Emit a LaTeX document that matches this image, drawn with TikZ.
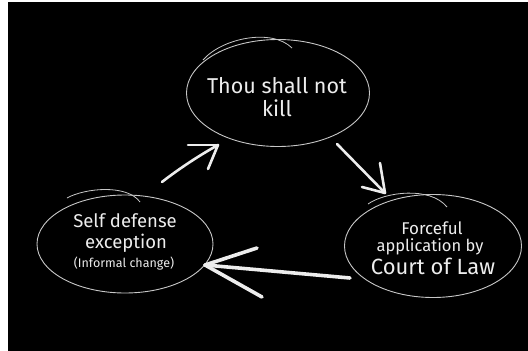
\documentclass[tikz,border=0pt]{standalone}
\usepackage{fontspec}
\setmainfont{Fira Sans}
\usetikzlibrary{shapes.geometric}
\definecolor{chalk}{gray}{0.93}
\definecolor{rim}{gray}{0.78}
\begin{document}
\begin{tikzpicture}[x=1pt,y=-1pt,
  bubble/.style={ellipse, draw=rim, line width=0.9pt, inner sep=0pt},
  txt/.style={text=chalk, inner sep=0pt, anchor=center},
  sketch/.style={draw=rim, line width=0.8pt},
  arr/.style={draw=chalk, line width=2.6pt, line cap=round, line join=round},
  bigarr/.style={draw=chalk, line width=3.6pt, line cap=round, line join=round}]
\useasboundingbox (0,0) rectangle (528,351);
\fill[white] (0,0) rectangle (528,351);
\fill[black] (8,2) rectangle (528,351);

% bubbles
\node[bubble, minimum width=183pt, minimum height=107pt] (top) at (278,93) {};
\node[bubble, minimum width=176pt, minimum height=98pt] (left) at (125,244) {};
\node[bubble, minimum width=177pt, minimum height=103pt] (right) at (433,246) {};

% overshoot strokes
\draw[sketch] (203,60) .. controls (222,38) and (272,28) .. (292,48);
\draw[sketch] (67,198) .. controls (85,188) and (127,184) .. (140,202);
\draw[sketch] (368,204) .. controls (385,192) and (430,186) .. (447,207);

% texts
\node[txt, font=\fontsize{21.5}{24}\selectfont] (t1a) at (277,86) {Thou shall not};
\node[txt, font=\fontsize{21.5}{24}\selectfont] (t1b) at (277,108) {kill};
\node[txt, font=\fontsize{18.5}{22}\selectfont] (t2a) at (125,221) {Self defense};
\node[txt, font=\fontsize{18.5}{22}\selectfont] (t2b) at (126,243) {exception};
\node[txt, font=\fontsize{12.5}{15}\selectfont] (t2c) at (124,264) {(Informal change)};
\node[txt, font=\fontsize{17}{20}\selectfont] (t3a) at (432,228) {Forceful};
\node[txt, font=\fontsize{16.5}{20}\selectfont] (t3b) at (430,247) {application by};
\node[txt, font=\fontsize{22}{24}\selectfont] (t3c) at (433,266) {Court of Law};

% arrows
\coordinate (a1s) at (162,182);
\coordinate (a1t) at (218,145);
\coordinate (a2s) at (337,144);
\coordinate (a2t) at (385,193);
\coordinate (a3s) at (350,278);
\coordinate (a3t) at (205,265);

\draw[arr] (a1s) .. controls (180,168) and (200,155) .. (a1t);
\draw[arr] (a1t) -- ++(-30,0);
\draw[arr] (a1t) -- ++(-10,24);

\draw[arr] (a2s) -- (a2t);
\draw[arr] (a2t) -- ++(-5,-30);
\draw[arr] (a2t) -- ++(-23,-6);

\draw[bigarr] (a3s) -- (a3t);
\draw[bigarr] (a3t) -- ++(52,-17);
\draw[bigarr] (a3t) -- ++(57,32);
\end{tikzpicture}
\end{document}
